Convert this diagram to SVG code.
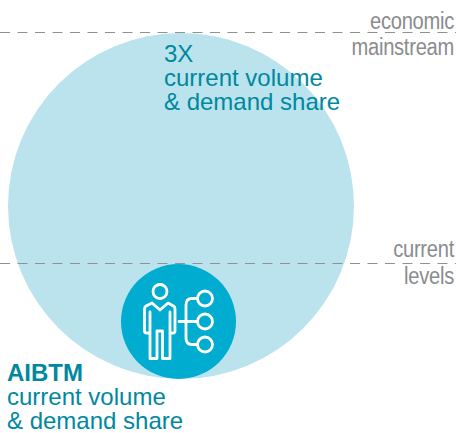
<svg xmlns="http://www.w3.org/2000/svg" width="456" height="433" viewBox="0 0 456 433">
<style>
.t{font-family:"Liberation Sans",Arial,sans-serif;font-size:24px;fill:#00889f}
.g{font-family:"Liberation Sans",Arial,sans-serif;font-size:23px;fill:#8a8c8e;text-anchor:end;letter-spacing:-.3px}
.d{fill:none;stroke:#8f9193;stroke-width:1;stroke-dasharray:10 7.5}
.i{fill:none;stroke:#fff;stroke-width:2.8;stroke-linejoin:round;stroke-linecap:round}
</style>
<circle id="large-circle" cx="181" cy="206" r="173" fill="#bbe3ee"/>
<g id="connectors">
<path class="d" d="M0 32.500H456"/>
<path class="d" d="M0 263.500H456"/>
</g>
<g id="small-circle">
<circle cx="178.500" cy="321.500" r="57.500" fill="#00acd0"/>
<g class="i">
<circle cx="160" cy="291.500" r="7"/>
<path d="M152 303L146 306Q144.500 307 144.500 309V331Q144.500 333 146.500 333H148Q150 333 150 331V312M150 312V358.500H157V331H162.500V358.500H170V312M170 312V331Q170 333 172 333H173Q175 333 175 331V309Q175 307 173.500 306L168 303L160 310L152 303"/>
<path d="M179 321.500H197M186 321.500V305Q186 298.500 192 298.500H197M186 321.500V338Q186 344.500 192 344.500H197"/>
<circle cx="205" cy="298.500" r="7.500"/>
<circle cx="205" cy="321.500" r="7.500"/>
<circle cx="205" cy="344.500" r="7.500"/>
</g>
</g>
<g id="label-3x">
<text class="t" x="164" y="62">3X</text>
<text class="t" x="164" y="86">current volume</text>
<text class="t" x="164" y="110">&amp; demand share</text>
</g>
<g id="label-aibtm">
<text class="t" x="7" y="381" font-weight="bold">AIBTM</text>
<text class="t" x="7" y="405">current volume</text>
<text class="t" x="7" y="429">&amp; demand share</text>
</g>
<g id="label-economic">
<text class="g" transform="translate(454 29) scale(.875 1)">economic</text>
<text class="g" transform="translate(454 55) scale(.875 1)">mainstream</text>
</g>
<g id="label-current">
<text class="g" transform="translate(454 257) scale(.875 1)">current</text>
<text class="g" transform="translate(454 284) scale(.875 1)">levels</text>
</g>
</svg>
